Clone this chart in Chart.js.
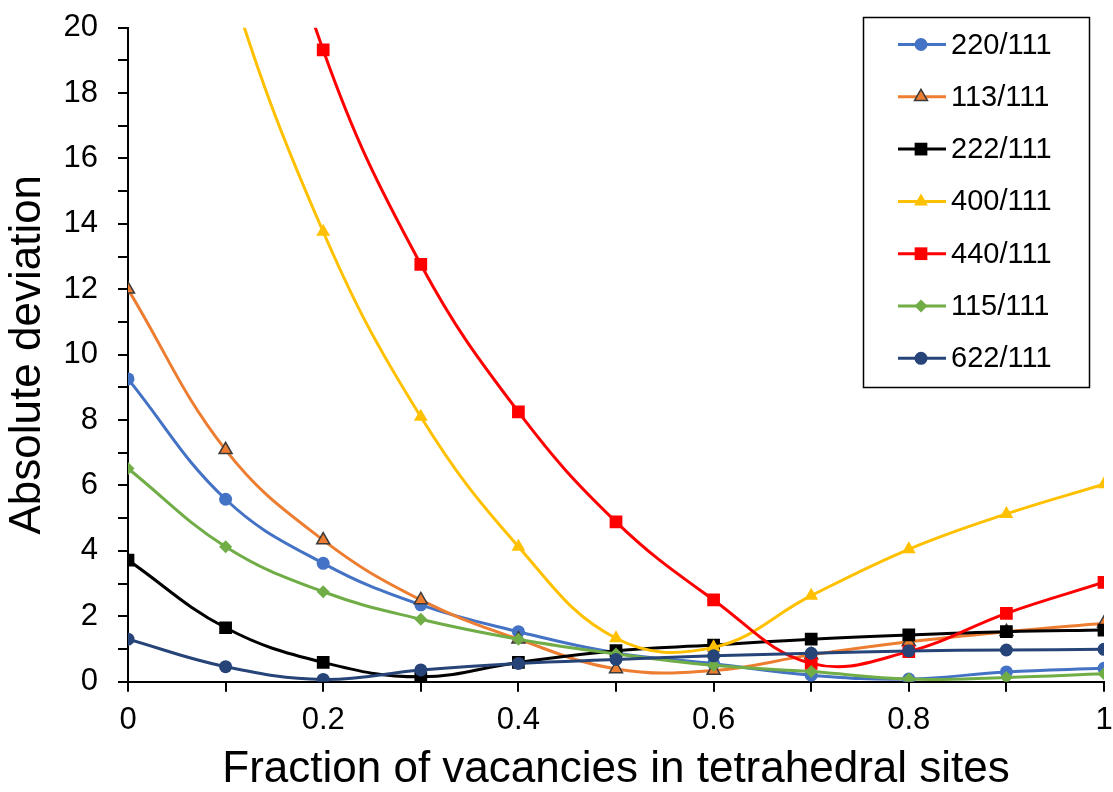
<!DOCTYPE html>
<html>
<head>
<meta charset="utf-8">
<script src="https://cdn.jsdelivr.net/npm/chart.js@4/dist/chart.umd.min.js"></script>
<style>
  html, body { margin: 0; padding: 0; background: #ffffff; }
  #wrap { width: 1113px; height: 792px; }
</style>
</head>
<body>
<div id="wrap"><canvas id="c" width="1113" height="792"></canvas></div>
<script>
// Fraction of vacancies in tetrahedral sites (x values)
const fractions = [0, 0.1, 0.2, 0.3, 0.4, 0.5, 0.6, 0.7, 0.8, 0.9, 1];

// Absolute deviation of each intensity ratio
const ratio220 = [9.26, 5.58, 3.62, 2.35, 1.53, 0.88, 0.55, 0.20, 0.08, 0.30, 0.41];
const ratio113 = [12.0, 7.09, 4.33, 2.50, 1.30, 0.39, 0.34, 0.82, 1.22, 1.53, 1.79];
const ratio222 = [3.72, 1.65, 0.59, 0.15, 0.59, 0.95, 1.12, 1.30, 1.43, 1.53, 1.58];
const ratio400 = [33.0, 21.8, 13.76, 8.10, 4.13, 1.33, 1.05, 2.63, 4.05, 5.13, 6.04];
const ratio440 = [45.0, 29.5, 19.32, 12.76, 8.25, 4.89, 2.50, 0.56, 0.92, 2.09, 3.04];
const ratio115 = [6.52, 4.13, 2.75, 1.91, 1.30, 0.85, 0.50, 0.31, 0.08, 0.13, 0.24];
const ratio622 = [1.30, 0.46, 0.07, 0.36, 0.56, 0.68, 0.79, 0.87, 0.94, 0.97, 0.99];

const seriesNames = ['220/111', '113/111', '222/111', '400/111', '440/111', '115/111', '622/111'];
const seriesValues = [ratio220, ratio113, ratio222, ratio400, ratio440, ratio115, ratio622];

// Axis ranges and labelled ticks
const yMin = 0, yMax = 20, yStep = 1;
const xMin = 0, xMax = 1, xStep = 0.1;

// Styling per series: line colour, marker shape, marker fill, marker border
const styles = [
  { color: '#4472C4', shape: 'circle',   r: 6.5, fill: '#4472C4', border: '#4472C4', bw: 0 },
  { color: '#ED7D31', shape: 'triangle', r: 7.5, fill: '#ED7D31', border: '#3b3b3b', bw: 1.5 },
  { color: '#000000', shape: 'rect',     r: 9,   fill: '#000000', border: '#000000', bw: 0 },
  { color: '#FFC000', shape: 'triangle', r: 8,   fill: '#FFC000', border: '#FFC000', bw: 0 },
  { color: '#FF0000', shape: 'rect',     r: 9,   fill: '#FF0000', border: '#FF0000', bw: 0 },
  { color: '#70AD47', shape: 'rectRot',  r: 6.5, fill: '#70AD47', border: '#70AD47', bw: 0 },
  { color: '#264478', shape: 'circle',   r: 6.5, fill: '#264478', border: '#264478', bw: 0 }
];

const FONT = '"Liberation Sans", Arial, Helvetica, sans-serif';

const datasets = seriesNames.map((name, i) => ({
  label: name,
  data: fractions.map((f, j) => ({ x: f, y: seriesValues[i][j] })),
  borderColor: styles[i].color,
  backgroundColor: styles[i].fill,
  borderWidth: 3,
  tension: 0.4,
  pointStyle: styles[i].shape,
  pointRadius: styles[i].r,
  pointHoverRadius: styles[i].r,
  pointBackgroundColor: styles[i].fill,
  pointBorderColor: styles[i].border,
  pointBorderWidth: styles[i].bw,
  order: seriesNames.length - i
}));

// Boxed legend in the upper right of the plot
const boxLegend = {
  id: 'boxLegend',
  afterDraw(chart) {
    const ctx = chart.ctx;
    const left = 863, top = 17, w = 227, h = 371;
    const rowTop = 44.5, rowGap = 52.3;
    ctx.save();
    ctx.fillStyle = '#ffffff';
    ctx.fillRect(left, top, w, h);
    ctx.strokeStyle = '#000000';
    ctx.lineWidth = 1.5;
    ctx.strokeRect(left + 0.5, top + 0.5, w - 1, h - 1);
    chart.data.datasets.forEach((ds, i) => {
      const y = rowTop + i * rowGap;
      ctx.strokeStyle = ds.borderColor;
      ctx.lineWidth = 3;
      ctx.beginPath();
      ctx.moveTo(898, y);
      ctx.lineTo(946, y);
      ctx.stroke();
      ctx.fillStyle = ds.pointBackgroundColor;
      ctx.strokeStyle = ds.pointBorderColor;
      ctx.lineWidth = ds.pointBorderWidth;
      Chart.helpers.drawPoint(ctx, {
        pointStyle: ds.pointStyle,
        radius: ds.pointRadius,
        borderWidth: ds.pointBorderWidth,
        rotation: 0
      }, 921, y);
      ctx.fillStyle = '#000000';
      ctx.font = '29px ' + FONT;
      ctx.textAlign = 'left';
      ctx.textBaseline = 'middle';
      ctx.fillText(ds.label, 951, y + 1);
    });
    ctx.restore();
  }
};

new Chart(document.getElementById('c'), {
  type: 'line',
  data: { datasets },
  plugins: [boxLegend],
  options: {
    responsive: false,
    animation: false,
    devicePixelRatio: 1,
    layout: { padding: { top: 27.7, right: 9, left: 0, bottom: 0 } },
    elements: { line: { capBezierPoints: false } },
    plugins: { legend: { display: false }, tooltip: { enabled: false } },
    scales: {
      x: {
        type: 'linear',
        min: xMin, max: xMax,
        afterFit(scale) {
          scale.height = 110.3;
          scale.paddingLeft = 0;
          scale.paddingRight = 0;
        },
        ticks: {
          stepSize: xStep,
          autoSkip: false,
          maxRotation: 0,
          color: '#000000',
          padding: 10,
          font: { family: FONT, size: 31 },
          callback: (v) => {
            const k = Math.round(v * 10);
            return k % 2 === 0 ? String(k / 10) : '';
          }
        },
        grid: { drawOnChartArea: false, drawTicks: true, tickLength: 10, color: '#000000', lineWidth: 2 },
        border: { color: '#000000', width: 2 },
        title: {
          display: true,
          text: 'Fraction of vacancies in tetrahedral sites',
          color: '#000000',
          font: { family: FONT, size: 44, lineHeight: 1 },
          padding: 0
        }
      },
      y: {
        min: yMin, max: yMax,
        afterFit(scale) {
          scale.width = 128;
          scale.paddingTop = 0;
          scale.paddingBottom = 0;
        },
        ticks: {
          stepSize: yStep,
          autoSkip: false,
          color: '#000000',
          padding: 20,
          font: { family: FONT, size: 31 },
          callback: (v) => (Math.round(v) % 2 === 0 ? String(Math.round(v)) : '')
        },
        grid: { drawOnChartArea: false, drawTicks: true, tickLength: 10, color: '#000000', lineWidth: 2 },
        border: { color: '#000000', width: 2 },
        title: {
          display: true,
          text: 'Absolute deviation',
          color: '#000000',
          font: { family: FONT, size: 44, lineHeight: 1 },
          padding: { top: 6, bottom: 0 }
        }
      }
    }
  }
});
</script>
</body>
</html>
